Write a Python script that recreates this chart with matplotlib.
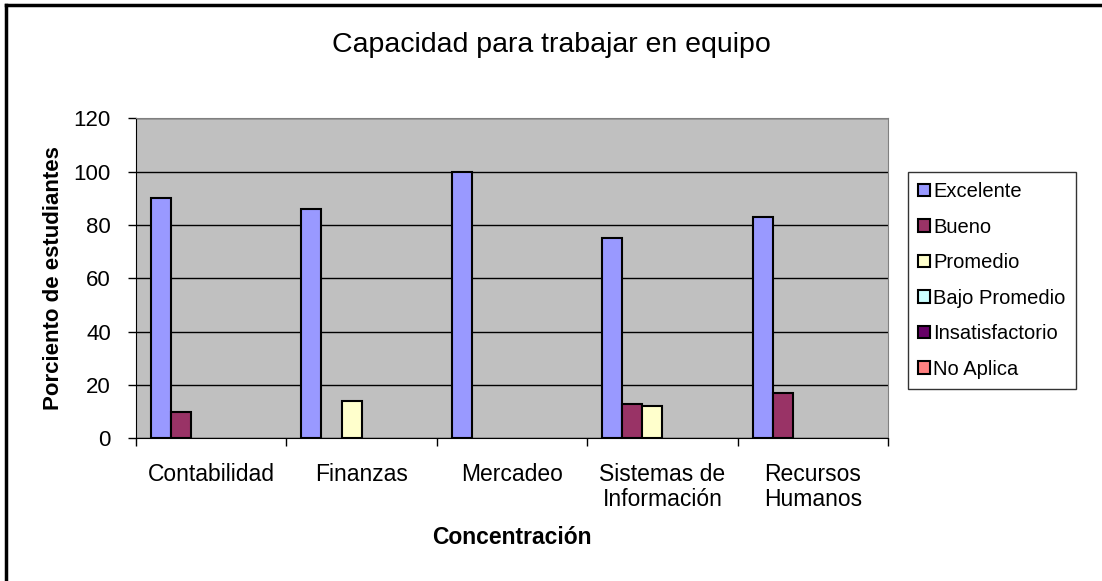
import matplotlib.pyplot as plt
import numpy as np

plt.rcParams['font.family'] = ['Liberation Sans', 'DejaVu Sans']

categorias = ['Contabilidad', 'Finanzas', 'Mercadeo', 'Sistemas de\nInformación', 'Recursos\nHumanos']
series = ['Excelente', 'Bueno', 'Promedio', 'Bajo Promedio', 'Insatisfactorio', 'No Aplica']
excelente = [90, 86, 100, 75, 83]
bueno = [10, 0, 0, 13, 17]
promedio = [0, 14, 0, 12, 0]
bajo_promedio = [0, 0, 0, 0, 0]
insatisfactorio = [0, 0, 0, 0, 0]
no_aplica = [0, 0, 0, 0, 0]
valores = [excelente, bueno, promedio, bajo_promedio, insatisfactorio, no_aplica]
colores = ['#9999FF', '#993366', '#FFFFCC', '#CCFFFF', '#660066', '#FF8080']

fig = plt.figure(figsize=(11.02, 5.81), dpi=100)
ax = fig.add_axes([0.1234, 0.2456, 0.6824, 0.5508])
ax.set_facecolor('#C0C0C0')

x = np.arange(len(categorias))
w = 1 / 7.5
for i, (nombre, vals) in enumerate(zip(series, valores)):
    pos = x - 0.4 + w * i + w / 2
    # solo dibujar barras con valor
    v = np.array(vals, dtype=float)
    mask = v > 0
    ax.bar(pos[mask], v[mask], width=w, color=colores[i], edgecolor='black', linewidth=1.5, zorder=3)
    ax.bar([np.nan], [0], width=w, color=colores[i], edgecolor='black', linewidth=1.5, label=nombre)

ax.set_xlim(-0.5, len(categorias) - 0.5)
ax.set_ylim(0, 120)
ax.set_yticks(range(0, 121, 20))
ax.yaxis.grid(True, color='black', linewidth=1, zorder=1)
ax.set_axisbelow(True)

ax.set_xticks(np.arange(-0.5, len(categorias)), minor=False)
ax.set_xticklabels([])
ax.set_xticks(x, minor=True)
ax.set_xticklabels(categorias, minor=True, fontsize=16.5, linespacing=1.1)
ax.tick_params(axis='x', which='minor', length=0, pad=18)
ax.tick_params(axis='x', which='major', length=6, width=1, color='black')
ax.tick_params(axis='y', length=6, width=1, labelsize=16, pad=12)

for s in ['top', 'right']:
    ax.spines[s].set_color('#808080')
ax.spines['left'].set_color('black')
ax.spines['bottom'].set_color('black')

ax.set_ylabel('Porciento de estudiantes', fontsize=16, fontweight='bold', labelpad=7)
ax.set_xlabel('Concentración', fontsize=16.5, fontweight='bold', labelpad=10.5)
fig.text(0.5, 0.922, 'Capacidad para trabajar en equipo', ha='center', va='center', fontsize=20.5)

leg = fig.legend(loc='upper left', bbox_to_anchor=(908 / 1102, 1 - 172 / 581), fontsize=14.5,
                 frameon=True, fancybox=False, edgecolor='black', handlelength=0.6,
                 handleheight=0.6, handletextpad=0.15, labelspacing=0.82, borderpad=0.5,
                 borderaxespad=0)
leg.get_frame().set_linewidth(1)

# borde del grafico
fig.add_artist(plt.Line2D([6 / 1102, 6 / 1102], [0, 1 - 5 / 581], color='black', linewidth=2.5, transform=fig.transFigure))
fig.add_artist(plt.Line2D([6 / 1102, 1], [1 - 5 / 581, 1 - 5 / 581], color='black', linewidth=2.5, transform=fig.transFigure))

fig.savefig('out.png', dpi=100)
